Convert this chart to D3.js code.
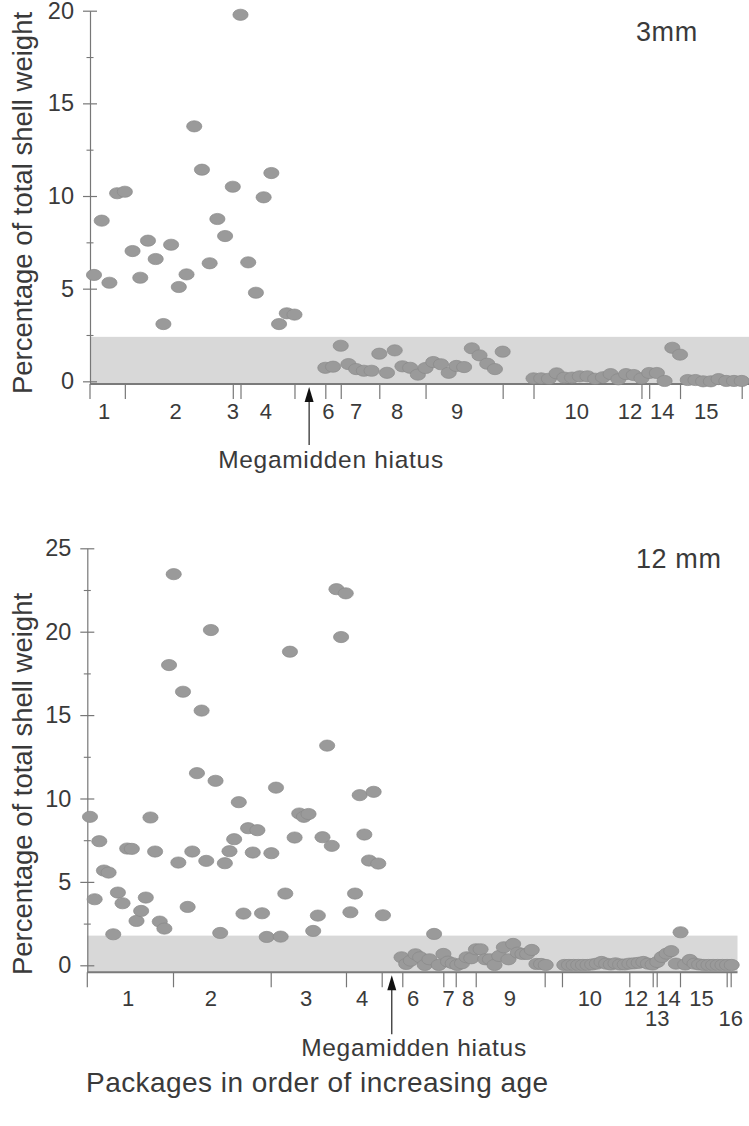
<!DOCTYPE html>
<html><head><meta charset="utf-8">
<script src="https://cdn.jsdelivr.net/npm/d3@7/dist/d3.min.js"></script>
<style>
body{margin:0;background:#fff}
svg{display:block}
text{font-family:"Liberation Sans",Arial,sans-serif;fill:#3a3a3a}
</style>
</head><body>
<script>
// ---------- DATA ----------
// 3 mm fraction: values in sample order (null = no sample, Megamidden hiatus / gaps)
const values3mm = [
  5.74, 8.67, 5.32, 10.15, 10.23, 7.03, 5.59, 7.59, 6.6, 3.09, 7.37, 5.09, 5.77, 13.76,
  11.42, 6.37, 8.76, 7.84, 10.5, 19.78, 6.42, 4.78, 9.93, 11.24, 3.09, 3.67, 3.6,
  null, null, null,
  0.73, 0.79, 1.92, 0.93, 0.66, 0.57, 0.57, 1.49, 0.46, 1.67, 0.81, 0.73, 0.36, 0.72,
  1.04, 0.92, 0.46, 0.83, 0.77, 1.78, 1.4, 0.95, 0.66, 1.6,
  null, null, null,
  0.16, 0.16, 0.14, 0.43, 0.2, 0.2, 0.27, 0.27, 0.14, 0.22, 0.39, 0.11, 0.39, 0.34,
  0.16, 0.45, 0.45, 0.02, 1.81, 1.44, 0.07, 0.07, 0, 0, 0.12, 0.02, 0.02, 0.02
];
// 12 mm fraction
const values12mm = [
  8.9, 3.96, 7.44, 5.68, 5.56, 1.86, 4.36, 3.72, 7.0, 6.98, 2.66, 3.26, 4.06, 8.86,
  6.82, 2.62, 2.2, 18.0, 23.45, 6.16, 16.4, 3.5, 6.82, 11.52, 15.27, 6.26, 20.1, 11.06,
  1.94, 6.12, 6.84, 7.56, 9.78, 3.1, 8.22, 6.76, 8.1, 3.12, 1.7, 6.72, 10.65, 1.72,
  4.3, 18.8, 7.66, 9.1, 8.9, 9.07, 2.06, 2.98, 7.68, 13.17, 7.16, 22.55, 19.68, 22.3,
  3.18, 4.3, 10.2, 7.84, 6.28, 10.4, 6.1, 3.0,
  null, null, null,
  0.48, 0.08, 0.28, 0.66, 0.48, 0.02, 0.36, 1.88, 0.02, 0.68, 0.22, 0.12, 0.02, 0.12,
  0.48, 0.42, 0.96, 0.96, 0.36, 0.36, 0.02, 0.56, 1.08, 0.36, 1.28, 0.76, 0.68, 0.68,
  0.92, 0.08, 0.08, 0.02,
  null, null, null,
  0.02, 0.02, 0.02, 0.02, 0.02, 0.02, 0.05, 0.1, 0.2, 0.1, 0.05, 0.12, 0.05, 0.05,
  0.1, 0.12, 0.15, 0.2, 0.1, 0.05, 0.2, 0.5, 0.7, 0.85, 0.1, 1.98, 0.05, 0.32, 0.1,
  0.05, 0.02, 0.02, 0.02, 0.02, 0.02, 0.02, 0.02
];
// package boundaries (in sample-order units)
const bounds3mm = [4, 18, 19, 26, 30, 32, 37, 43, 53, 57, 71, 72, 76, 84];
const bounds12mm = [17.85, 38.86, 55.05, 62.73, 67.16, 75.98, 78.65, 82.95, 97.78, 101.5,
  115.98, 121.01, 121.87, 126.88, 136.92, 137.78];
// package labels
const pkgLabels3mm = ["1","2","3","4","6","7","8","9","10","12","14","15"];
const pkgPos3mm    = [1.3, 10.6, 18.0, 22.3, 30.4, 34.0, 39.3, 47.1, 62.6, 69.5, 73.7, 79.4];
const pkgLabels12mm = ["1","2","3","4","6","7","8","9","10","12","14","15","13","16"];
const pkgPos12mm    = [8.2, 26.0, 46.5, 58.5, 69.5, 77.1, 81.3, 90.3, 107.5, 117.4, 124.4, 131.5, 122.0, 137.8];
const pkgRow12mm    = [0,0,0,0,0,0,0,0,0,0,0,0,1,1];
// y ticks
const yMajor3mm = [0, 5, 10, 15, 20];
const yMinor3mm = [2.5, 7.5, 12.5, 17.5];
const yMajor12mm = [0, 5, 10, 15, 20, 25];
const yMinor12mm = [2.5, 7.5, 12.5, 17.5, 22.5];
// shaded band upper limits
const band3mm = 2.4;
const band12mm = 1.78;
// Megamidden hiatus position (sample-order units)
const hiatus3mm = 27.9;
const hiatus12mm = 64.9;

// ---------- DRAW ----------
const W = 749, H = 1126;
const svg = d3.select("body").append("svg").attr("width", W).attr("height", H);

const panels = [
  { values: values3mm, bounds: bounds3mm, labels: pkgLabels3mm, pos: pkgPos3mm, rows: pkgLabels3mm.map(()=>0),
    yMajor: yMajor3mm, yMinor: yMinor3mm, band: band3mm, hiatus: hiatus3mm, tag: "3mm",
    xDom: [0, 84], xRange: [94, 741.7], axisX: 90, right: 749,
    yDom: [-0.15, 20], yRange: [384.1, 10.7],
    tagX: 636, tagY: 41, labelY: 419, rowGap: 20, arrowLen: 58, hiatusTextY: 468, hiatusTextX: 331, titleY: 203},
  { values: values12mm, bounds: bounds12mm, labels: pkgLabels12mm, pos: pkgPos12mm, rows: pkgRow12mm,
    yMajor: yMajor12mm, yMinor: yMinor12mm, band: band12mm, hiatus: hiatus12mm, tag: "12 mm",
    xDom: [0, 138], xRange: [90, 731.7], axisX: 87.3, right: 737.5,
    yDom: [-0.42, 25], yRange: [972.3, 548.3],
    tagX: 636, tagY: 568, labelY: 1006, rowGap: 20, arrowLen: 59, hiatusTextY: 1056, hiatusTextX: 414, titleY: 784}
];

panels.forEach(p => {
  const g = svg.append("g");
  const x = d3.scaleLinear().domain(p.xDom).range(p.xRange);
  const y = d3.scaleLinear().domain(p.yDom).range(p.yRange);
  const base = y(p.yDom[0]);

  // shaded band
  g.append("rect")
    .attr("x", p.axisX).attr("y", y(p.band))
    .attr("width", p.right - p.axisX).attr("height", base - y(p.band))
    .attr("fill", "#d8d8d8");

  // y axis major
  const ya = g.append("g").attr("transform", `translate(${p.axisX},0)`)
    .call(d3.axisLeft(y).tickValues(p.yMajor).tickSizeInner(7).tickSizeOuter(0).tickPadding(9).tickFormat(d3.format("d")));
  ya.select(".domain").attr("stroke", "#777").attr("stroke-width", 1.2);
  ya.selectAll(".tick line").attr("x1", 7).attr("stroke", "#777").attr("stroke-width", 1.2);
  ya.selectAll(".tick text").style("font-size", "23.5px").attr("fill", "#3a3a3a")
    .style("font-family", '"Liberation Sans", Arial, sans-serif');
  // y axis minor
  const ym = g.append("g").attr("transform", `translate(${p.axisX},0)`)
    .call(d3.axisLeft(y).tickValues(p.yMinor).tickSizeInner(3.5).tickSizeOuter(0).tickFormat(""));
  ym.select(".domain").remove();
  ym.selectAll(".tick line").attr("x1", 3.5).attr("stroke", "#777").attr("stroke-width", 1.1);

  // x axis (package boundaries)
  const xa = g.append("g").attr("transform", `translate(0,${base})`)
    .call(d3.axisBottom(x).tickValues(p.bounds).tickSizeInner(15).tickSizeOuter(0).tickFormat(""));
  xa.select(".domain").remove();
  xa.selectAll(".tick line").attr("stroke", "#777").attr("stroke-width", 1.2);
  // left edge tick at y-axis
  g.append("line").attr("x1", p.axisX).attr("x2", p.axisX).attr("y1", base).attr("y2", base + 15)
    .attr("stroke", "#777").attr("stroke-width", 1.2);
  // baseline
  g.append("line").attr("x1", p.axisX).attr("x2", p.right).attr("y1", base).attr("y2", base)
    .attr("stroke", "#7a7a7a").attr("stroke-width", 2);

  // package labels
  g.selectAll("text.pkg").data(p.labels).join("text").attr("class", "pkg")
    .attr("x", (d, i) => x(p.pos[i]))
    .attr("y", (d, i) => p.labelY + p.rows[i] * p.rowGap)
    .attr("text-anchor", "middle").style("font-size", "22px").text(d => d);

  // dots
  const pts = p.values.map((v, i) => ({ i, v })).filter(d => d.v !== null);
  g.selectAll("ellipse").data(pts).join("ellipse")
    .attr("cx", d => x(d.i)).attr("cy", d => y(d.v))
    .attr("rx", 7.6).attr("ry", 5.6)
    .attr("fill", "#9a9a9a").attr("stroke", "#8a8a8a").attr("stroke-width", 0.7);

  // hiatus arrow
  const ax = x(p.hiatus);
  const tip = base + 3;
  g.append("line").attr("x1", ax).attr("x2", ax).attr("y1", tip + 12).attr("y2", tip + p.arrowLen)
    .attr("stroke", "#222").attr("stroke-width", 1.2);
  g.append("path").attr("d", `M${ax},${tip} L${ax - 4.5},${tip + 15} L${ax + 4.5},${tip + 15} Z`).attr("fill", "#111");
  g.append("text").attr("x", p.hiatusTextX).attr("y", p.hiatusTextY).attr("text-anchor", "middle")
    .style("font-size", "24.5px").style("letter-spacing", "0.7px").text("Megamidden hiatus");

  // fraction tag
  g.append("text").attr("x", p.tagX).attr("y", p.tagY).style("font-size", "27px")
    .style("letter-spacing", "0.6px").text(p.tag);

  // y title
  g.append("text").attr("transform", `translate(32,${p.titleY}) rotate(-90)`)
    .attr("text-anchor", "middle").style("font-size", "27.5px")
    .text("Percentage of total shell weight");
});

svg.append("text").attr("x", 86).attr("y", 1092).style("font-size", "28px")
  .style("letter-spacing", "0.45px").text("Packages in order of increasing age");
</script>
</body></html>
